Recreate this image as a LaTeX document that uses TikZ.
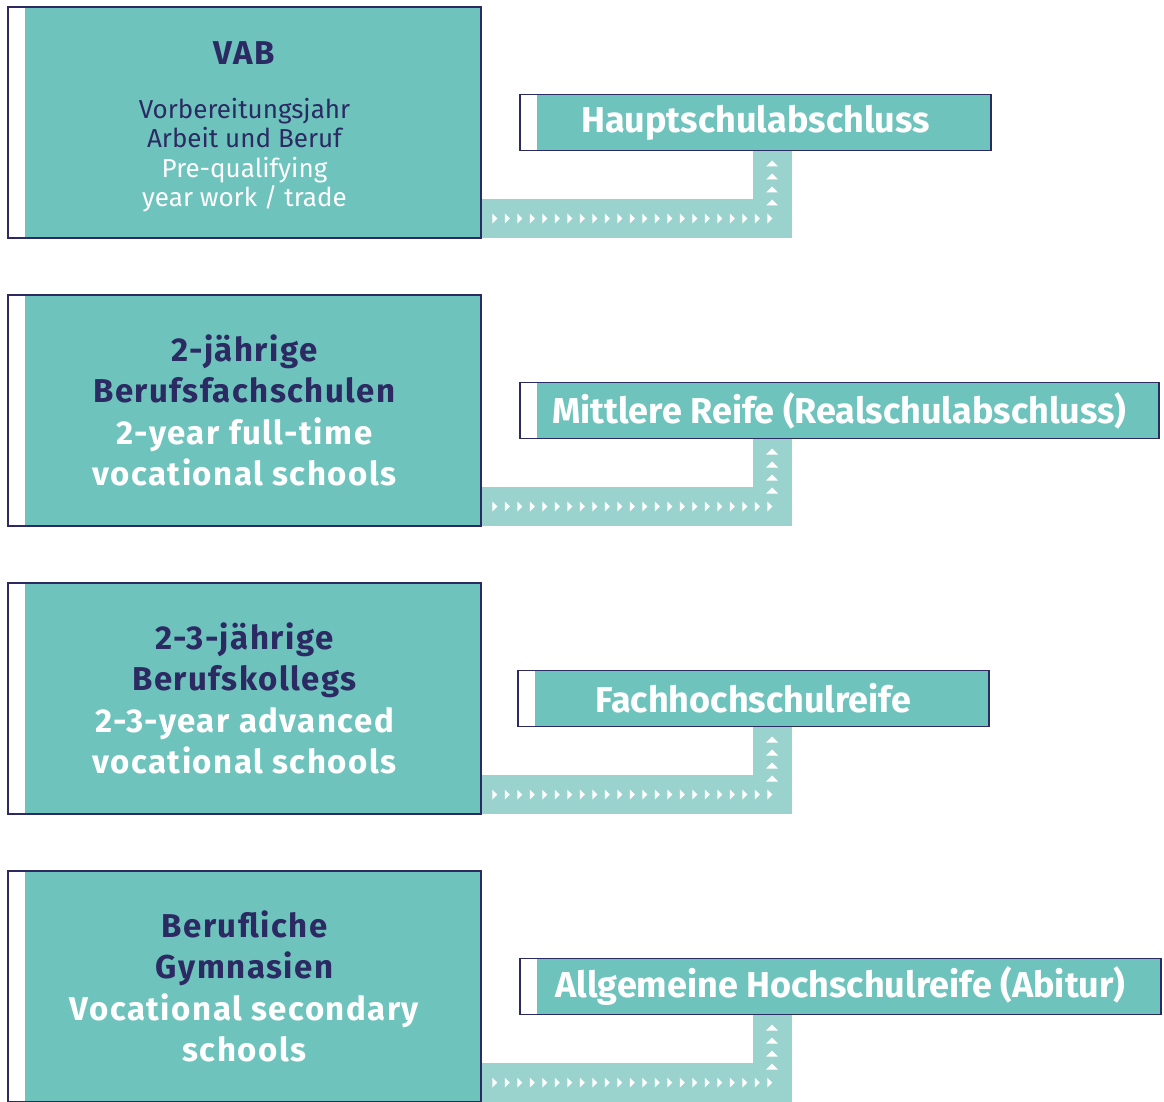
\documentclass[tikz,border=0pt]{standalone}
\usepackage{fontspec}
\setmainfont{Fira Sans}
\newfontfamily\trackfont[LetterSpace=4.5]{Fira Sans}
\usepackage{xcolor}
\usepackage{tikz}
\usetikzlibrary{positioning, calc}
\definecolor{navy}{RGB}{44,42,98}
\definecolor{tealbox}{RGB}{111,195,189}
\definecolor{tealband}{RGB}{154,211,206}
\tikzset{
  school/.style={
    rectangle, draw=navy, line width=1.5pt, fill=white, outer sep=0pt,
    minimum width=473pt, minimum height=231pt, inner sep=0pt, align=center,
    text=white, font=\trackfont\fontsize{33}{41.5}\selectfont\bfseries,
    path picture={\fill[tealbox] ([xshift=17pt]path picture bounding box.south west)
      rectangle (path picture bounding box.north east);}
  },
  result/.style={
    school, minimum height=56pt, font=\fontsize{36}{40}\selectfont\bfseries
  },
  band/.style={draw=tealband, line width=39pt, line join=miter},
  tick/.style={fill=white, draw=none},
}
\newcommand{\dk}[1]{\textcolor{navy}{#1}}

\begin{document}
\begin{tikzpicture}[x=1pt, y=-1pt]
  \useasboundingbox (0,0) rectangle (1164,1102);
  \node[school, font=\fontsize{26}{29.5}\selectfont] (vab) at (244.5,122.5)
    {\rule{0pt}{32pt}{\trackfont\fontsize{33}{33}\selectfont\bfseries\dk{VAB}}\\[24.5pt]
    \dk{Vorbereitungsjahr}\\\dk{Arbeit und Beruf}\\Pre-qualifying\\year work / trade};
  \node[school, below=57pt of vab] (bfs) {\dk{2-jährige}\\\dk{Berufsfachschulen}\\2-year full-time\\vocational schools};
  \node[school, below=57pt of bfs] (bk) {\dk{2-3-jährige}\\\dk{Berufskollegs}\\2-3-year advanced\\vocational schools};
  \node[school, below=57pt of bk] (bg) {\dk{Berufliche}\\\dk{Gymnasien}\\Vocational secondary\\schools};

  \node[result, right=39pt of vab, minimum width=471pt] (hsa) {Hauptschulabschluss};
  \node[result, right=39pt of bfs, minimum width=639pt] (mr) {Mittlere Reife (Realschulabschluss)};
  \node[result, right=37pt of bk, minimum width=471pt] (fhr) {Fachhochschulreife};
  \node[result, right=39pt of bg, minimum width=641pt] (ahr) {Allgemeine Hochschulreife (Abitur)};

  % bands from school to degree
  \foreach \src/\dst in {vab/hsa, bfs/mr, bk/fhr, bg/ahr} {
    \path (\src.south east) ++(0.75,-19.5) coordinate (\src-a);
    \coordinate (\src-k) at ($(\src-a -| hsa.west)+(252,0)$);
    \draw[band] (\src-a) -- (\src-k) -- ($(\src-k |- \dst.south)+(0,0.75)$);
    \foreach \i in {0,...,22}
      \fill[tick] ($(\src-a)+(10.5+\i*12.5,-5)$) -- ++(5,5) -- ++(-5,5) -- cycle;
    \foreach \j in {0,...,3}
      \fill[tick] ($(\src-k)+(-6,-13-\j*13)$) -- ++(6,-6) -- ++(6,6) -- cycle;
  }
\end{tikzpicture}
\end{document}
